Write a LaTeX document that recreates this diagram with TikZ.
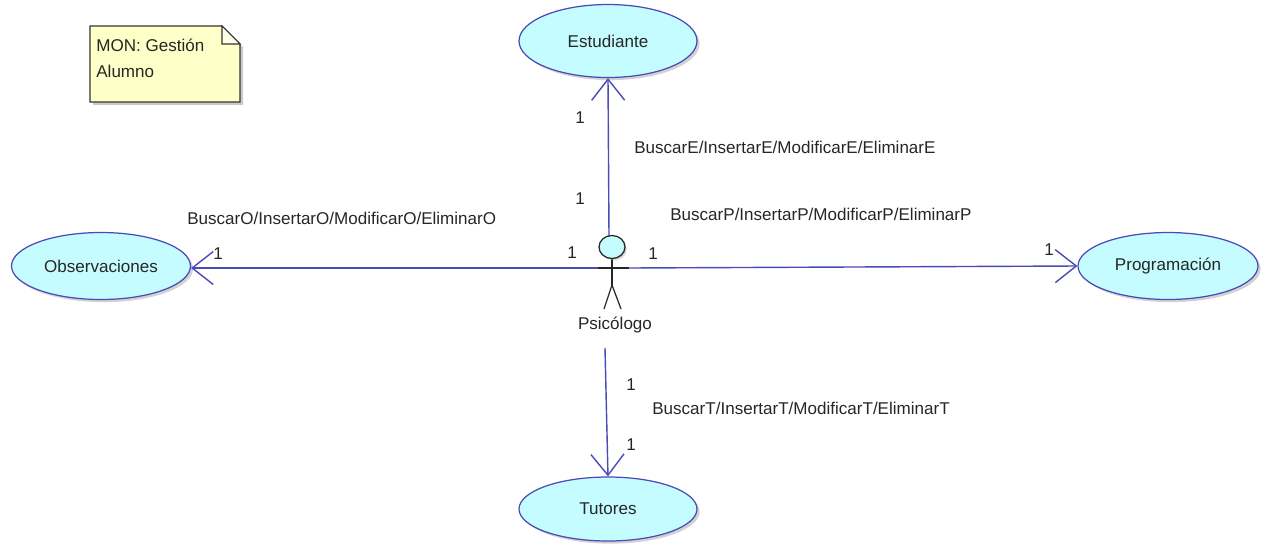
\documentclass[tikz,border=0pt]{standalone}
\usepackage{fontspec}
\setmainfont{Liberation Sans}
\usetikzlibrary{arrows.meta,shadows,shapes.geometric}
\definecolor{ucfill}{HTML}{C4FCFF}
\definecolor{ucline}{HTML}{4A4AB8}
\definecolor{notefill}{HTML}{FFFFC8}
\tikzset{
    x=0.02cm, y=-0.02cm,
    usecase/.style={draw=ucline, fill=ucfill, ellipse, inner sep=0pt, line width=0.7pt,
        drop shadow={shadow xshift=1.5pt, shadow yshift=-1.5pt, fill=black!35, opacity=0.5}, font=\fontsize{9.7}{11}\selectfont, text=black!85},
    lbl/.style={font=\fontsize{9.7}{11}\selectfont, text=black!85, inner sep=0pt},
    assoc/.style={draw=ucline, line width=0.8pt, -{Straight Barb[length=0.42cm, width=0.66cm]}},
    stick/.style={black!85, line width=0.7pt},
}
\begin{document}
\begin{tikzpicture}
    \useasboundingbox (0,0) rectangle (1269,545);

    % Note in the upper left corner
    \fill[black!35, opacity=0.6] (93,29) -- (224,29) -- (243,47) -- (243,105) -- (93,105) -- cycle;
    \draw[black!80, fill=notefill, line width=0.8pt] (90,26) -- (222,26) -- (240,44) -- (240,102) -- (90,102) -- cycle;
    \draw[black!80, fill=white!60!notefill, line width=0.6pt] (222,26) -- (222,44) -- (240,44) -- cycle;
    \node[lbl, anchor=west] (noteTop) at (96,45) {MON: Gestión};
    \node[lbl, anchor=west] (noteBottom) at (96,71) {Alumno};

    % Use cases
    \node[usecase, minimum width=3.56cm, minimum height=1.46cm] (estudiante) at (608,41) {Estudiante};
    \node[usecase, minimum width=3.58cm, minimum height=1.34cm] (observaciones) at (101,266) {Observaciones};
    \node[usecase, minimum width=3.6cm, minimum height=1.34cm] (programacion) at (1168,266) {Programación};
    \node[usecase, minimum width=3.56cm, minimum height=1.28cm] (tutores) at (608,509) {Tutores};

    % Actor
    \coordinate (armLeft) at (598,268);
    \coordinate (armRight) at (629,268);
    \coordinate (hip) at (612,285);
    \node[lbl] (psicologo) at (615,325) {Psicólogo};
    \coordinate (tutoresStart) at (605,348);

    % Connectors
    \draw[assoc] (609,236) -- (estudiante.south);
    \draw[assoc] (armLeft) -- (observaciones.east |- armLeft);
    \draw[assoc] (armRight) -- (programacion.west);
    \draw[assoc] (tutoresStart) -- (tutores.north);

    \draw[stick] (612,259) -- (hip);
    \draw[stick] (armLeft) -- (armRight);
    \draw[stick] (604,309) -- (hip) -- (621,309);
    \node[draw=black!85, fill=ucfill, ellipse, minimum width=0.52cm, minimum height=0.46cm, inner sep=0pt, line width=0.7pt,
        drop shadow={shadow xshift=1pt, shadow yshift=-1pt, fill=black!35, opacity=0.5}] (psicologoHead) at (612,247) {};

    % Multiplicities
    \foreach \x/\y [count=\i] in {580/118, 580/199, 572/253, 653/254, 218/254, 1049/250, 631/385, 631/445}
        \node[lbl] (mult\i) at (\x,\y) {1};

    % Operations
    \node[lbl, anchor=west] (opsE) at (634,147) {BuscarE/InsertarE/ModificarE/EliminarE};
    \node[lbl, anchor=west] (opsP) at (670,214) {BuscarP/InsertarP/ModificarP/EliminarP};
    \node[lbl, anchor=west] (opsO) at (187,218) {BuscarO/InsertarO/ModificarO/EliminarO};
    \node[lbl, anchor=west] (opsT) at (652,408) {BuscarT/InsertarT/ModificarT/EliminarT};
\end{tikzpicture}
\end{document}
